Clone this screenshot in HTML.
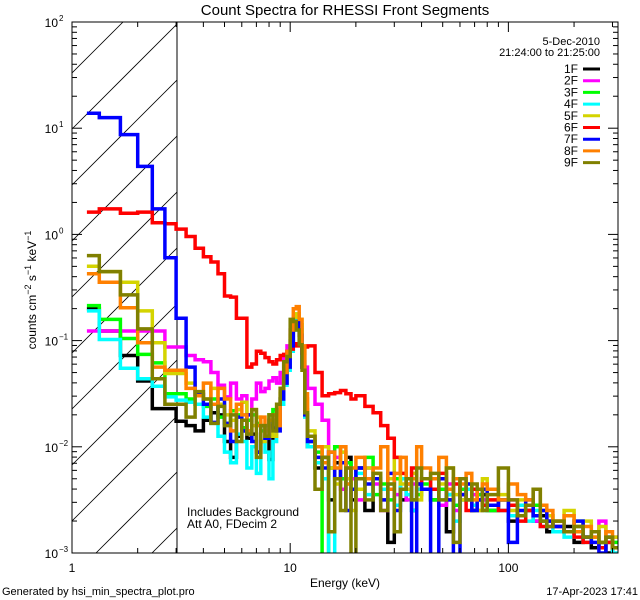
<!DOCTYPE html>
<html><head><meta charset="utf-8"><style>
html,body{margin:0;padding:0;background:#fff;width:640px;height:600px;overflow:hidden;}
svg{display:block;font-family:"Liberation Sans",sans-serif;}
</style></head><body>
<svg id="chart" width="640" height="600" viewBox="0 0 640 600">
<defs><clipPath id="pc"><rect x="72" y="22" width="546" height="531"/></clipPath>
<clipPath id="hc"><rect x="72" y="22" width="105" height="531"/></clipPath></defs>
<text x="345" y="15" font-size="15" text-anchor="middle">Count Spectra for RHESSI Front Segments</text>
<g id="hatch" clip-path="url(#hc)"></g>
<line x1="177" y1="22" x2="177" y2="553" stroke="#000" stroke-width="1"/>
<g id="series" clip-path="url(#pc)"></g>
<rect x="72" y="22" width="546" height="531" fill="none" stroke="#000" stroke-width="1"/>
<g id="axes"></g>
<text x="345" y="587" font-size="12" text-anchor="middle">Energy (keV)</text>
<text transform="translate(36,290) rotate(-90)" font-size="12" text-anchor="middle">counts cm<tspan dy="-5" font-size="9">−2</tspan><tspan dy="5"> s</tspan><tspan dy="-5" font-size="9">−1</tspan><tspan dy="5"> keV</tspan><tspan dy="-5" font-size="9">−1</tspan></text>
<text x="187" y="516" font-size="12">Includes Background</text>
<text x="187" y="528" font-size="12">Att A0, FDecim 2</text>
<text x="2" y="595" font-size="11">Generated by hsi_min_spectra_plot.pro</text>
<text x="638" y="595" font-size="11" text-anchor="end">17-Apr-2023 17:41</text>
<text x="600" y="45" font-size="11" text-anchor="end">5-Dec-2010</text>
<text x="600" y="56" font-size="11" text-anchor="end">21:24:00 to 21:25:00</text>
<g id="legend"></g>
</svg>
<script>
const segNames = ["1F","2F","3F","4F","5F","6F","7F","8F","9F"];
const segColors = ["#000000","#ff00ff","#00ff00","#00ffff","#d4d400","#ff0000","#0000ff","#ff8000","#808000"];
const xTickVals = [1,10,100];
const xTickLabels = ["1","10","100"];
const yTickExps = [-3,-2,-1,0,1,2];
// log10 counts per bin
const s1F = [-0.70,-0.91,-1.14,-1.38,-1.64,-1.64,
-1.76,-1.80,-1.85,-1.75,-1.68,-1.70,-1.95,-2.10,-1.90,-1.85,-1.92,-1.88,-2.05,-1.95,-1.92,-2.12,-1.85,-1.75,-1.55,-1.40,-1.25,-1.05,-0.85,-0.80,-0.90,-1.25,-1.70,
-2.0,-2.2,-2.1,-2.5,-2.15,-2.3,-2.1,-2.5,-2.2,-2.6,-2.3,-2.4,-2.9,-2.3,-2.5,-2.3,-2.6,-2.4,-2.3,-2.5,-2.4,-2.8,-2.3,-2.5,-2.4,-2.6,-2.5,-2.45,-2.6,-2.5,-2.7,-2.55,-2.6,-2.7,-2.65,-2.8,-2.8,-2.75,-2.9,-2.85,-2.95,-2.9,-3.0,-2.95];
const s2F = [-0.91,-0.91,-0.91,-0.91,-0.91,-1.06,
-1.06,-1.14,-1.18,-1.20,-1.30,-1.42,-1.53,-1.40,-1.55,-1.52,-1.70,-1.55,-1.40,-1.48,-1.45,-1.38,-1.35,-1.40,-1.30,-1.15,-1.05,-0.90,-0.78,-0.80,-0.95,-1.15,-1.25,
-1.45,-1.6,-1.75,-2.2,-2.1,-2.4,-2.2,-2.3,-2.5,-2.2,-2.35,-2.6,-2.3,-2.45,-2.3,-2.5,-2.35,-2.4,-2.4,-2.3,-2.55,-2.35,-2.6,-2.4,-2.5,-2.45,-2.6,-2.5,-2.55,-2.6,-2.5,-2.65,-2.6,-2.7,-2.6,-2.75,-2.7,-2.8,-2.75,-2.85,-2.8,-2.7,-2.9,-2.85];
const s3F = [-0.67,-0.80,-0.98,-1.13,-1.21,-1.50,
-1.50,-1.55,-1.60,-1.62,-1.55,-1.72,-1.78,-1.66,-1.70,-1.82,-1.75,-1.70,-1.78,-1.85,-1.80,-1.70,-1.65,-1.70,-1.55,-1.35,-1.20,-1.00,-0.82,-0.75,-0.85,-1.20,-1.65,
-1.95,-2.05,-3.1,-2.2,-2.0,-2.3,-2.15,-2.4,-2.3,-2.1,-2.45,-2.35,-2.5,-2.3,-2.4,-2.35,-2.5,-2.45,-2.35,-2.5,-2.4,-2.45,-2.55,-2.4,-2.5,-2.6,-2.45,-2.55,-2.6,-2.5,-2.55,-2.65,-2.6,-2.55,-2.7,-2.65,-2.75,-2.8,-2.7,-2.85,-2.8,-2.9,-2.85,-2.9];
const s4F = [-0.72,-0.99,-1.26,-1.36,-1.43,-1.53,
-1.56,-1.58,-1.60,-1.72,-1.78,-1.90,-2.05,-2.15,-1.88,-1.95,-2.20,-2.00,-2.25,-1.95,-2.05,-2.30,-1.95,-1.80,-1.60,-1.42,-1.28,-1.10,-0.90,-0.78,-0.88,-1.22,-1.72,
-2.0,-2.15,-2.3,-3.1,-2.2,-2.05,-2.35,-2.4,-2.25,-2.45,-2.3,-2.4,-2.35,-2.55,-2.3,-2.45,-2.6,-2.4,-2.4,-2.3,-2.5,-2.45,-2.7,-2.5,-2.4,-2.55,-2.5,-2.6,-2.55,-2.6,-2.65,-2.55,-2.7,-2.6,-2.75,-2.7,-2.8,-2.85,-2.75,-2.9,-2.85,-2.95,-2.9,-3.0];
const s5F = [-0.30,-0.35,-0.45,-0.72,-1.02,-1.31,
-1.31,-1.40,-1.50,-1.55,-1.45,-1.60,-1.70,-1.75,-1.65,-1.58,-1.85,-1.80,-1.72,-1.95,-1.85,-1.80,-1.90,-1.75,-1.50,-1.35,-1.15,-0.95,-0.78,-0.75,-0.80,-1.10,-1.55,
-1.85,-2.1,-2.0,-2.2,-2.35,-2.05,-2.3,-2.6,-2.4,-2.2,-2.25,-2.5,-2.3,-2.1,-2.35,-2.4,-2.25,-2.5,-2.3,-2.4,-2.35,-2.2,-2.45,-2.5,-2.35,-2.4,-2.6,-2.3,-2.5,-2.45,-2.6,-2.5,-2.55,-2.4,-2.6,-2.65,-2.7,-2.6,-2.75,-2.7,-2.85,-2.75,-2.9,-2.85];
const s6F = [0.21,0.24,0.20,0.21,0.11,0.10,
0.05,-0.02,-0.13,-0.21,-0.26,-0.37,-0.58,-0.59,-0.79,-0.79,-1.25,-1.22,-1.10,-1.12,-1.16,-1.20,-1.22,-1.18,-1.14,-1.13,-1.10,-1.08,-1.05,-1.03,-1.05,-1.12,-1.06,
-1.05,-1.3,-1.52,-1.5,-1.49,-1.47,-1.50,-1.55,-1.52,-1.62,-1.68,-1.8,-1.92,-2.1,-2.25,-2.3,-2.2,-2.35,-2.3,-2.4,-2.25,-2.5,-2.35,-2.45,-2.6,-2.4,-2.5,-2.55,-2.5,-2.6,-2.55,-2.7,-2.6,-2.65,-2.75,-2.7,-2.75,-2.8,-2.85,-2.9,-2.8,-2.95,-2.9,-2.95];
const s7F = [1.14,1.10,0.94,0.64,0.24,-0.22,
-0.79,-1.25,-1.51,-1.60,-1.77,-1.55,-1.78,-1.95,-1.72,-1.85,-1.70,-1.95,-2.05,-1.80,-1.92,-1.75,-1.82,-1.85,-1.55,-1.40,-1.25,-1.05,-0.85,-0.82,-0.95,-1.25,-1.70,
-1.95,-2.1,-2.2,-2.05,-2.3,-2.15,-2.6,-2.4,-2.2,-2.35,-2.3,-2.5,-2.25,-2.6,-2.4,-2.3,-3.1,-2.35,-2.4,-3.1,-2.3,-2.5,-3.1,-2.45,-2.35,-2.6,-2.5,-2.4,-2.55,-2.5,-2.9,-2.6,-2.5,-2.65,-2.6,-2.7,-2.75,-2.8,-2.7,-2.85,-2.9,-3.0,-2.85,-2.95];
const s8F = [-0.37,-0.45,-0.69,-1.02,-1.25,-1.28,
-1.28,-1.45,-1.52,-1.40,-1.60,-1.45,-1.55,-1.85,-1.60,-1.70,-1.85,-1.65,-1.80,-1.72,-1.90,-1.75,-1.70,-1.80,-1.45,-1.30,-1.10,-0.90,-0.70,-0.68,-0.80,-1.05,-1.50,
-1.9,-2.0,-2.15,-2.05,-2.2,-2.0,-2.35,-2.2,-2.1,-2.3,-2.2,-2.0,-2.4,-2.25,-2.1,-2.35,-2.3,-2.0,-2.2,-2.3,-2.1,-2.4,-2.3,-2.35,-2.25,-2.5,-2.4,-2.35,-2.4,-2.5,-2.35,-2.45,-2.5,-2.4,-2.55,-2.6,-2.7,-2.65,-2.8,-2.75,-2.85,-2.9,-2.8,-2.95];
const s9F = [-0.20,-0.35,-0.57,-0.89,-1.36,-1.60,
-1.60,-1.72,-1.48,-1.55,-1.78,-1.62,-1.80,-1.70,-1.95,-1.75,-1.88,-1.65,-2.10,-1.80,-1.90,-1.70,-1.85,-1.60,-1.45,-1.20,-1.15,-0.80,-0.82,-0.90,-1.04,-1.28,-1.68,
-1.9,-2.4,-2.1,-2.8,-2.3,-2.6,-2.2,-3.1,-2.3,-2.5,-2.25,-2.6,-2.35,-2.8,-2.4,-2.3,-2.5,-2.2,-2.3,-2.25,-2.5,-2.2,-2.9,-2.3,-2.5,-2.35,-2.4,-2.6,-2.45,-2.2,-2.5,-2.65,-2.55,-2.4,-2.7,-2.75,-2.7,-2.8,-2.75,-2.85,-2.8,-2.9,-2.85,-2.95];
const allSeries = [s1F,s2F,s3F,s4F,s5F,s6F,s7F,s8F,s9F];

const NS="http://www.w3.org/2000/svg";
const X0=72, X1=618, Y0=22, Y1=553, LXMIN=0, LXMAX=Math.log10(318), LYMIN=-3, LYMAX=2;
function xs(e){return X0+(Math.log10(e)-LXMIN)/(LXMAX-LXMIN)*(X1-X0);}
function ys(lv){return Y1-(lv-LYMIN)/(LYMAX-LYMIN)*(Y1-Y0);}
function mk(tag,attrs,parent){const el=document.createElementNS(NS,tag);for(const k in attrs)el.setAttribute(k,attrs[k]);parent.appendChild(el);return el;}

const edges=[1.17];
for(let k=4;k<=36;k++)edges.push(k/3);
for(let e=13;e<=20;e++)edges.push(e);
for(let e=22;e<=40;e+=2)edges.push(e);
for(let e=44;e<=80;e+=4)edges.push(e);
for(let e=90;e<=160;e+=10)edges.push(e);
for(let e=180;e<=320;e+=20)edges.push(e);

const hatch=document.getElementById('hatch');
for(let b=-200;b<700;b+=56){
  const l=mk('line',{x1:72,y1:b+105,x2:177,y2:b,stroke:'#000','stroke-width':0.8},hatch);
  
  
}

const sg=document.getElementById('series');
allSeries.forEach((vals,si)=>{
  let d='';
  for(let i=0;i<vals.length&&i+1<edges.length;i++){
    const xa=xs(edges[i]).toFixed(1), xb=xs(edges[i+1]).toFixed(1), y=ys(vals[i]).toFixed(1);
    d+=(i===0?'M':'L')+xa+','+y+'L'+xb+','+y;
  }
  const p=mk('path',{d:d,fill:'none',stroke:segColors[si],'stroke-width':3.5,'stroke-linejoin':'miter'},sg);
  
  
});

const ax=document.getElementById('axes');
for(let dec=0;dec<3;dec++){
  for(let m=1;m<=9;m++){
    const e=m*Math.pow(10,dec); if(e>318)break;
    const x=xs(e), len=(m===1)?10:5;
    const t1=mk('line',{x1:x,y1:Y1,x2:x,y2:Y1-len,stroke:'#000'},ax);
    
    
    const t2=mk('line',{x1:x,y1:Y0,x2:x,y2:Y0+len,stroke:'#000'},ax);
    
    
  }
}
xTickVals.forEach((v,i)=>{
  const t=mk('text',{x:xs(v),y:572,'font-size':12,'text-anchor':'middle'},ax);
  t.textContent=xTickLabels[i];
  
  
});
for(let ex=-3;ex<2;ex++){
  for(let m=1;m<=9;m++){
    const y=ys(ex+Math.log10(m)), len=(m===1)?10:5;
    const a=mk('line',{x1:X0,y1:y,x2:X0+len,y2:y,stroke:'#000'},ax);
    
    
    const b=mk('line',{x1:X1,y1:y,x2:X1-len,y2:y,stroke:'#000'},ax);
    
    
  }
}
yTickExps.forEach(ex=>{
  const y=ys(ex);
  const t=mk('text',{x:X0-14,y:y+5,'font-size':12,'text-anchor':'end'},ax);
  t.textContent='10';
  
  
  const s=mk('text',{x:X0-13,y:y-1,'font-size':8,'text-anchor':'start'},ax);
  s.textContent=ex<0?('−'+(-ex)):String(ex);
  
  
});

const lg=document.getElementById('legend');
segNames.forEach((n,i)=>{
  const y=69+i*11.7;
  const t=mk('text',{x:578,y:y+4,'font-size':12,'text-anchor':'end'},lg);
  t.textContent=n;
  
  
  const l=mk('line',{x1:583,y1:y,x2:600,y2:y,stroke:segColors[i],'stroke-width':3},lg);
  
  
});
</script>
</body></html>
